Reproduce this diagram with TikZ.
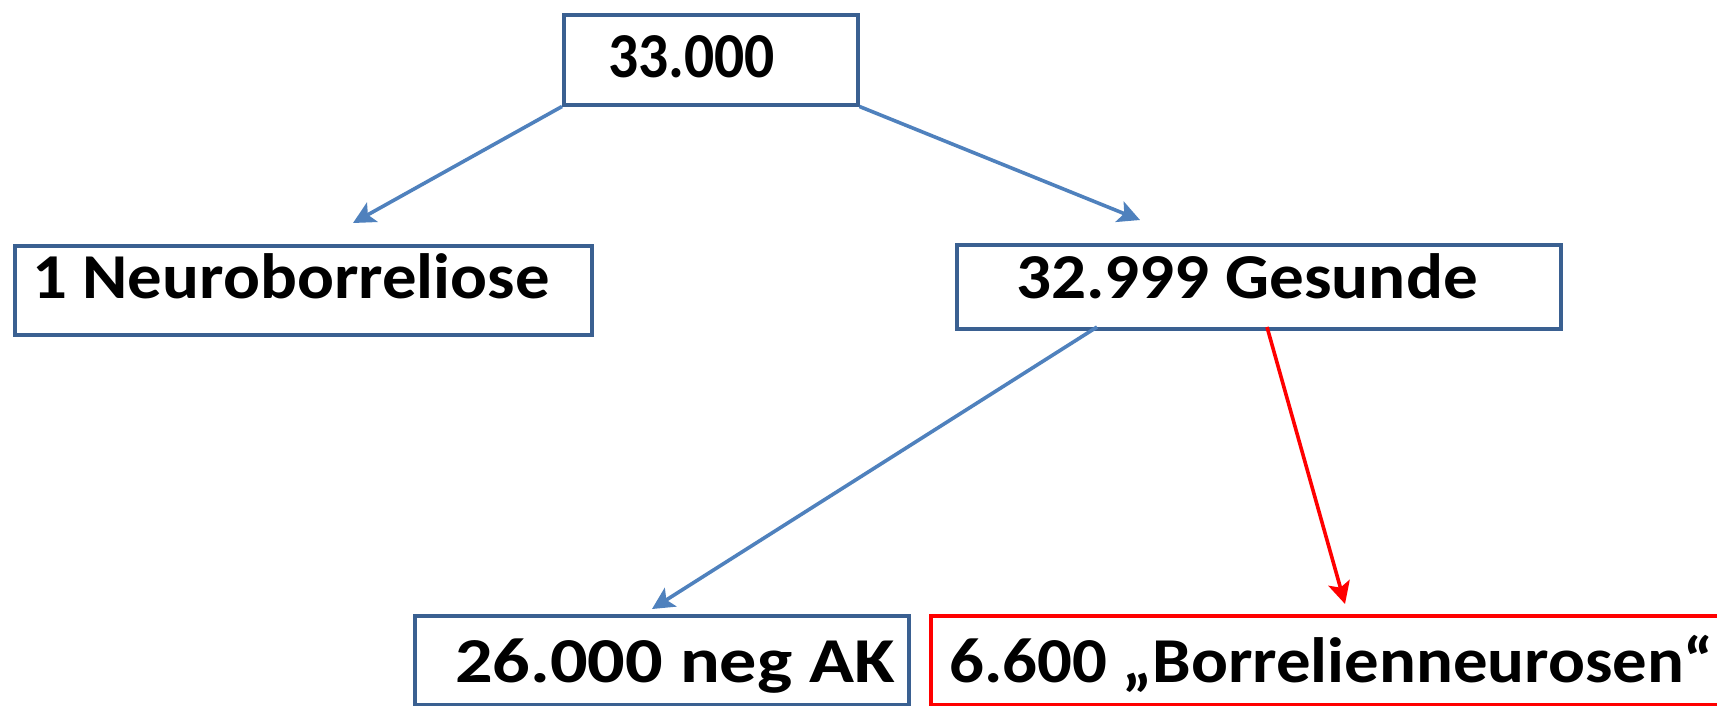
\documentclass[tikz,border=0pt]{standalone}
\usepackage{fontspec}
\setmainfont{Carlito}
\usetikzlibrary{arrows.meta}
\definecolor{boxblue}{RGB}{58,96,145}
\definecolor{arrblue}{RGB}{79,129,189}
\definecolor{arrred}{RGB}{255,0,0}
\tikzset{
  box/.style={draw=boxblue, line width=3.5pt, fill=white, inner sep=0pt},
  redbox/.style={draw=arrred, line width=3.5pt, fill=white, inner sep=0pt},
  lbl/.style={font=\fontsize{64}{70}\selectfont\bfseries, inner sep=0pt, anchor=base west},
  barrow/.style={draw=arrblue, line width=3.6pt, -{Stealth[length=22pt,width=22pt,inset=5pt]}},
  rarrow/.style={draw=arrred, line width=3.6pt, -{Stealth[length=22pt,width=22pt,inset=5pt]}}
}
\begin{document}
\begin{tikzpicture}[x=1pt,y=-1pt]
\useasboundingbox (0,0) rectangle (1717,705);
\clip (0,0) rectangle (1717,705);
\fill[white] (0,0) rectangle (1717,705);
% boxes
\node[box, anchor=north west, minimum width=294pt, minimum height=90pt] (b1) at (562,13) {};
\node[box, anchor=north west, minimum width=577pt, minimum height=89pt] (b2) at (13,244) {};
\node[box, anchor=north west, minimum width=604pt, minimum height=84pt] (b3) at (955,243) {};
\node[box, anchor=north west, minimum width=494pt, minimum height=89pt] (b4) at (413,614) {};
\node[redbox, anchor=north west, minimum width=820pt, minimum height=89pt] (b5) at (929,614) {};
% labels
\node[lbl] (t1) at (608,77) {\scalebox{0.93}[1]{33.000}};
\node[lbl] (t2) at (32,298) {\scalebox{1.075}[1]{1 Neuroborreliose}};
\node[lbl] (t3) at (1016,298) {\scalebox{1.08}[1]{32.999 Gesunde}};
\node[lbl] (t4) at (455,682) {\scalebox{1.16}[1]{26.000 neg AK}};
\node[lbl] (t5) at (949,682) {\scalebox{1.075}[1]{6.600 „Borrelienneurosen“}};
% arrow tips
\coordinate (e1) at (353,223);
\coordinate (e2) at (1140,220);
\coordinate (e3) at (652,609);
\coordinate (e4) at (1345,604);
\coordinate (s3) at (1097,327);
\coordinate (s4) at (1267,327);
\draw[barrow] (b1.south west) -- (e1);
\draw[barrow] (b1.south east) -- (e2);
\draw[barrow] (s3) -- (e3);
\draw[rarrow] (s4) -- (e4);
\end{tikzpicture}
\end{document}
